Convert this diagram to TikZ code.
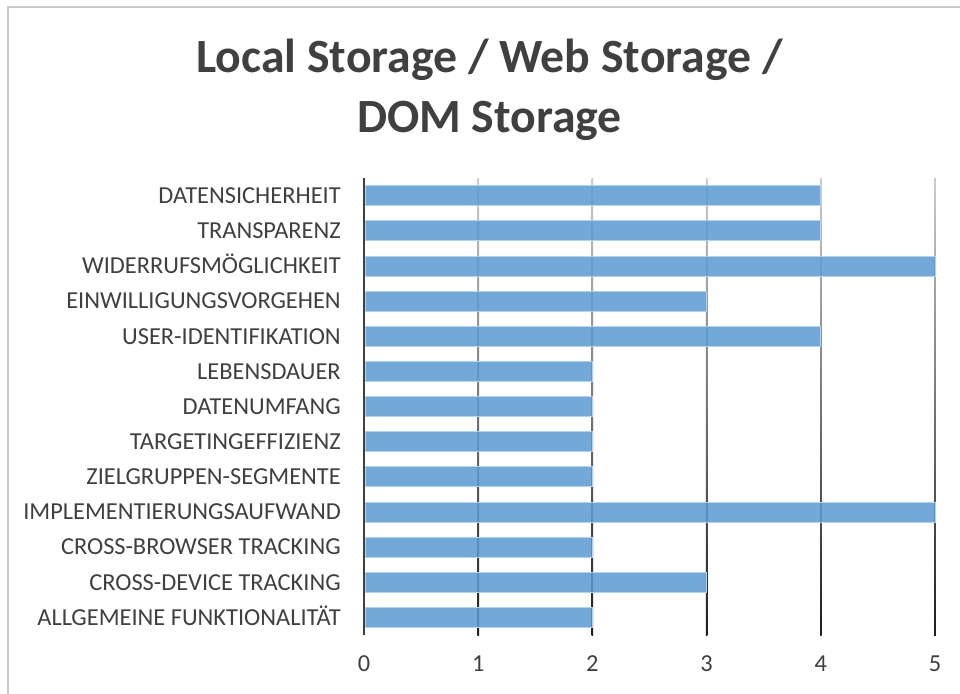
\documentclass[tikz,border=0pt]{standalone}
\usepackage{fontspec}
\setmainfont{Carlito}
\usepackage{xcolor}
\usepackage{tikz}

\definecolor{barblue}{HTML}{5B9BD5}
\definecolor{txtgray}{HTML}{404040}
\definecolor{framegray}{HTML}{C8C8C8}
\definecolor{axisgray}{HTML}{404040}
\definecolor{gridtop}{HTML}{CDCDCD}
\definecolor{gridbot}{HTML}{1E1E1E}

\begin{document}
\begin{tikzpicture}[
  x=0.75pt, y=-0.75pt,
  titletext/.style={anchor=base, inner sep=0pt, text=txtgray, font=\fontsize{35.8pt}{45pt}\selectfont\bfseries},
  catlabel/.style={anchor=base east, inner sep=0pt, text=txtgray, font=\fontsize{18.3pt}{21pt}\selectfont},
  numlabel/.style={anchor=base, inner sep=0pt, text=txtgray, font=\fontsize{18.3pt}{21pt}\selectfont},
  bar/.style={fill=barblue, fill opacity=0.86, draw=barblue!45, line width=0.6pt},
  gridline/.style={top color=gridtop, bottom color=gridbot}
]
\useasboundingbox (0,0) rectangle (960,693);
\fill[white] (0,0) rectangle (960,693);
\draw[framegray, line width=1.5pt] (8,720) -- (8,7) -- (990,7);

\node[titletext] (title-a) at (489.5,72) {Local Storage / Web Storage /};
\node[titletext] (title-b) at (489.5,132) {DOM Storage};

% vertical grid, light at the top and dark at the bottom
\foreach \t in {1,...,5}
  \shade[gridline] (364+114.2*\t-0.8,178) rectangle (364+114.2*\t+0.8,635);

\foreach \v/\name [count=\i from 0] in {
    4/DATENSICHERHEIT,
    4/TRANSPARENZ,
    5/WIDERRUFSMÖGLICHKEIT,
    3/EINWILLIGUNGSVORGEHEN,
    4/USER-IDENTIFIKATION,
    2/LEBENSDAUER,
    2/DATENUMFANG,
    2/TARGETINGEFFIZIENZ,
    2/ZIELGRUPPEN-SEGMENTE,
    5/IMPLEMENTIERUNGSAUFWAND,
    2/CROSS-BROWSER TRACKING,
    3/CROSS-DEVICE TRACKING,
    2/ALLGEMEINE FUNKTIONALITÄT} {
  \pgfmathsetmacro\yc{195.6+35.15*\i}
  \node[catlabel] (cat-\i) at (341,\yc+7.8) {\name};
  \draw[bar] (365.5,\yc-10) rectangle (364+114.2*\v,\yc+10);
}

\draw[axisgray, line width=2.2pt] (364,178) -- (364,635);

\foreach \t in {0,...,5}
  \node[numlabel] (num-\t) at (364+114.2*\t,671) {\t};
\end{tikzpicture}
\end{document}
